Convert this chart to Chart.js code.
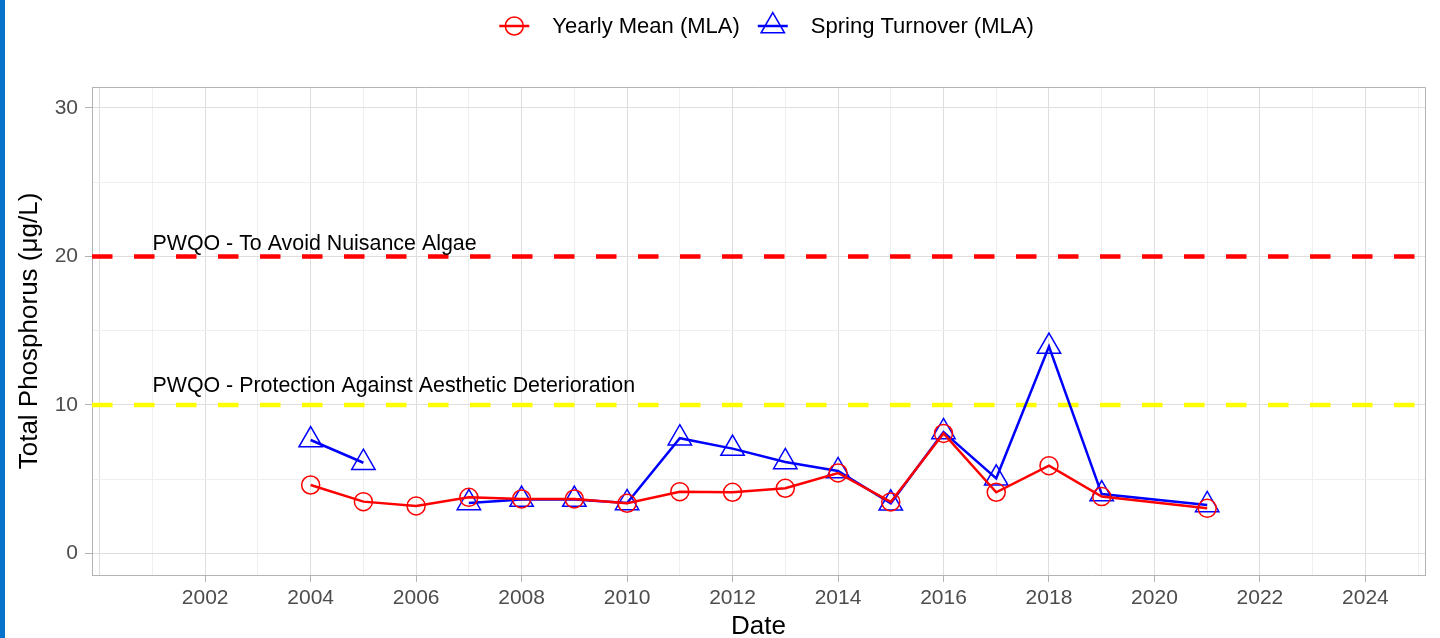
<!DOCTYPE html>
<html>
<head>
<meta charset="utf-8">
<script src="https://cdn.jsdelivr.net/npm/chart.js@4.4.1/dist/chart.umd.min.js"></script>
<style>
  html, body { margin: 0; padding: 0; background: #fff; }
  #wrap { position: relative; width: 1440px; height: 638px; }
  #edge { position: absolute; left: 0; top: 0; width: 5px; height: 638px; background: #0772cc; }
</style>
</head>
<body>
<div id="wrap">
  <canvas id="canvas"></canvas>
  <div id="edge"></div>
</div>
<script>
var years = [2004, 2005, 2006, 2007, 2008, 2009, 2010, 2011, 2012, 2013, 2014, 2015, 2016, 2017, 2018, 2019, 2021];
var yearlyMean = [4.61, 3.49, 3.2, 3.78, 3.67, 3.67, 3.38, 4.16, 4.12, 4.39, 5.42, 3.47, 8.08, 4.12, 5.91, 3.83, 3.04];
var springTurnover = [7.64, 6.11, null, 3.4, 3.63, 3.63, 3.4, 7.76, 7.06, 6.16, 5.56, 3.38, 8.18, 5.06, 13.93, 4.0, 3.27];

var xTicks = [2000, 2001, 2002, 2003, 2004, 2005, 2006, 2007, 2008, 2009, 2010, 2011, 2012,
              2013, 2014, 2015, 2016, 2017, 2018, 2019, 2020, 2021, 2022, 2023, 2024, 2025];
var xLabels = [2002, 2004, 2006, 2008, 2010, 2012, 2014, 2016, 2018, 2020, 2022, 2024];
var yTicks = [0, 5, 10, 15, 20, 25, 30];
var yLabels = [0, 10, 20, 30];

var thresholds = [
    { value: 20, color: '#ff0000', label: 'PWQO - To Avoid Nuisance Algae', labelX: 2001, labelY: 20.8 },
    { value: 10, color: '#ffff00', label: 'PWQO - Protection Against Aesthetic Deterioration', labelX: 2001, labelY: 11.25 }
];

var FONT = "'Liberation Sans', Arial, sans-serif";

// dashed guideline + text annotations
var guides = {
    id: 'guides',
    beforeDatasetsDraw: function (chart) {
        var ctx = chart.ctx, area = chart.chartArea, y = chart.scales.y;
        ctx.save();
        ctx.beginPath();
        ctx.rect(area.left, area.top, area.right - area.left, area.bottom - area.top);
        ctx.clip();
        thresholds.forEach(function (t) {
            var py = y.getPixelForValue(t.value);
            ctx.strokeStyle = t.color;
            ctx.lineWidth = 4.5;
            ctx.setLineDash([20.5, 21.5]);
            ctx.beginPath();
            ctx.moveTo(area.left, py);
            ctx.lineTo(area.right, py);
            ctx.stroke();
        });
        ctx.restore();
    },
    afterDatasetsDraw: function (chart) {
        var ctx = chart.ctx, x = chart.scales.x, y = chart.scales.y;
        ctx.save();
        ctx.font = '21.4px ' + FONT;
        ctx.fillStyle = '#000';
        ctx.textAlign = 'left';
        ctx.textBaseline = 'middle';
        thresholds.forEach(function (t) {
            ctx.fillText(t.label, x.getPixelForValue(t.labelX), y.getPixelForValue(t.labelY));
        });
        ctx.restore();
    },
    afterDraw: function (chart) {
        var ctx = chart.ctx, area = chart.chartArea;
        ctx.save();
        ctx.strokeStyle = '#b3b3b3';
        ctx.lineWidth = 1;
        ctx.beginPath();
        ctx.moveTo(area.left, area.top + 0.5);
        ctx.lineTo(area.right + 0.5, area.top + 0.5);
        ctx.lineTo(area.right + 0.5, area.bottom);
        ctx.stroke();
        ctx.restore();
    }
};

// legend with a line through each marker
var keyLegend = {
    id: 'keyLegend',
    afterDraw: function (chart) {
        var ctx = chart.ctx, area = chart.chartArea;
        var sets = chart.data.datasets;
        var keyW = 30, gapText = 23, gapItem = 18, cy = 26;
        ctx.save();
        ctx.font = '22px ' + FONT;
        var widths = sets.map(function (d) { return ctx.measureText(d.label).width; });
        var total = 0;
        widths.forEach(function (w, i) { total += keyW + gapText + w + (i ? gapItem : 0); });
        var x = (area.left + area.right) / 2 + 8 - total / 2;
        sets.forEach(function (d, i) {
            var cx = x + keyW / 2;
            ctx.strokeStyle = d.borderColor;
            ctx.lineWidth = 2.5;
            ctx.setLineDash([]);
            ctx.beginPath();
            ctx.moveTo(x, cy);
            ctx.lineTo(x + keyW, cy);
            ctx.stroke();
            ctx.lineWidth = 1.5;
            ctx.beginPath();
            if (d.pointStyle === 'triangle') {
                var r = d.pointRadius;
                ctx.moveTo(cx, cy - r);
                ctx.lineTo(cx + r * Math.sin(Math.PI * 2 / 3), cy - r * Math.cos(Math.PI * 2 / 3));
                ctx.lineTo(cx + r * Math.sin(Math.PI * 4 / 3), cy - r * Math.cos(Math.PI * 4 / 3));
                ctx.closePath();
            } else {
                ctx.arc(cx, cy, d.pointRadius, 0, Math.PI * 2);
            }
            ctx.stroke();
            ctx.fillStyle = '#000';
            ctx.textAlign = 'left';
            ctx.textBaseline = 'middle';
            ctx.fillText(d.label, x + keyW + gapText, cy + 1);
            x += keyW + gapText + widths[i] + gapItem;
        });
        ctx.restore();
    }
};

function isIn(list, v) { return list.indexOf(v) !== -1; }

plot();

function plot() {
    var context = document.getElementById('canvas').getContext('2d');
    var phosphorusChart = new Chart(context, {
        type: 'line',
        data: {
            labels: years,
            datasets: [
                {
                    label: 'Yearly Mean (MLA)',
                    data: yearlyMean,
                    borderColor: '#ff0000',
                    backgroundColor: 'rgba(0,0,0,0)',
                    borderWidth: 2.5,
                    pointStyle: 'circle',
                    pointRadius: 9,
                    pointBorderWidth: 1.5,
                    pointBorderColor: '#ff0000',
                    pointBackgroundColor: 'rgba(0,0,0,0)',
                    lineTension: 0,
                    fill: false
                },
                {
                    label: 'Spring Turnover (MLA)',
                    data: springTurnover,
                    borderColor: '#0000ff',
                    backgroundColor: 'rgba(0,0,0,0)',
                    borderWidth: 2.5,
                    pointStyle: 'triangle',
                    pointRadius: 13.5,
                    pointBorderWidth: 1.5,
                    pointBorderColor: '#0000ff',
                    pointBackgroundColor: 'rgba(0,0,0,0)',
                    lineTension: 0,
                    spanGaps: false,
                    fill: false
                }
            ]
        },
        options: {
            responsive: true,
            maintainAspectRatio: false,
            animation: false,
            layout: { padding: { top: 87, left: 0, right: 12, bottom: 0 } },
            plugins: {
                legend: { display: false },
                tooltip: { enabled: false }
            },
            scales: {
                x: {
                    type: 'linear',
                    min: 1999.854,
                    max: 2025.13,
                    afterBuildTicks: function (scale) {
                        scale.ticks = xTicks.map(function (v) { return { value: v }; });
                    },
                    afterFit: function (scale) {
                        scale.height = 63;
                        scale.paddingLeft = 0;
                        scale.paddingRight = 0;
                    },
                    ticks: {
                        autoSkip: false,
                        maxRotation: 0,
                        padding: 4,
                        color: '#4d4d4d',
                        font: { family: FONT, size: 21 },
                        callback: function (v) { return isIn(xLabels, v) ? String(v) : ''; }
                    },
                    grid: {
                        drawTicks: true,
                        tickLength: 7,
                        color: function (c) { return c.tick && c.tick.value % 2 === 0 ? '#dedede' : '#efefef'; },
                        tickColor: function (c) { return c.tick && isIn(xLabels, c.tick.value) ? '#b3b3b3' : 'rgba(0,0,0,0)'; }
                    },
                    border: { display: true, color: '#b3b3b3', width: 1 },
                    title: {
                        display: true,
                        text: 'Date',
                        color: '#000',
                        font: { family: FONT, size: 26, lineHeight: 0.85 },
                        padding: { top: 0, bottom: 0 }
                    }
                },
                y: {
                    type: 'linear',
                    min: -1.45,
                    max: 31.41,
                    afterBuildTicks: function (scale) {
                        scale.ticks = yTicks.map(function (v) { return { value: v }; });
                    },
                    afterFit: function (scale) { scale.width = 92; },
                    ticks: {
                        padding: 7,
                        color: '#4d4d4d',
                        font: { family: FONT, size: 21 },
                        callback: function (v) { return isIn(yLabels, v) ? String(v) : ''; }
                    },
                    grid: {
                        drawTicks: true,
                        tickLength: 7,
                        color: function (c) { return c.tick && c.tick.value % 10 === 0 ? '#dedede' : '#efefef'; },
                        tickColor: function (c) { return c.tick && isIn(yLabels, c.tick.value) ? '#b3b3b3' : 'rgba(0,0,0,0)'; }
                    },
                    border: { display: true, color: '#b3b3b3', width: 1 },
                    title: {
                        display: true,
                        text: 'Total Phosphorus (μg/L)',
                        color: '#000',
                        font: { family: FONT, size: 26, lineHeight: 1.2 },
                        padding: { top: 14, bottom: 0 }
                    }
                }
            }
        },
        plugins: [guides, keyLegend]
    });
}
</script>
</body>
</html>
